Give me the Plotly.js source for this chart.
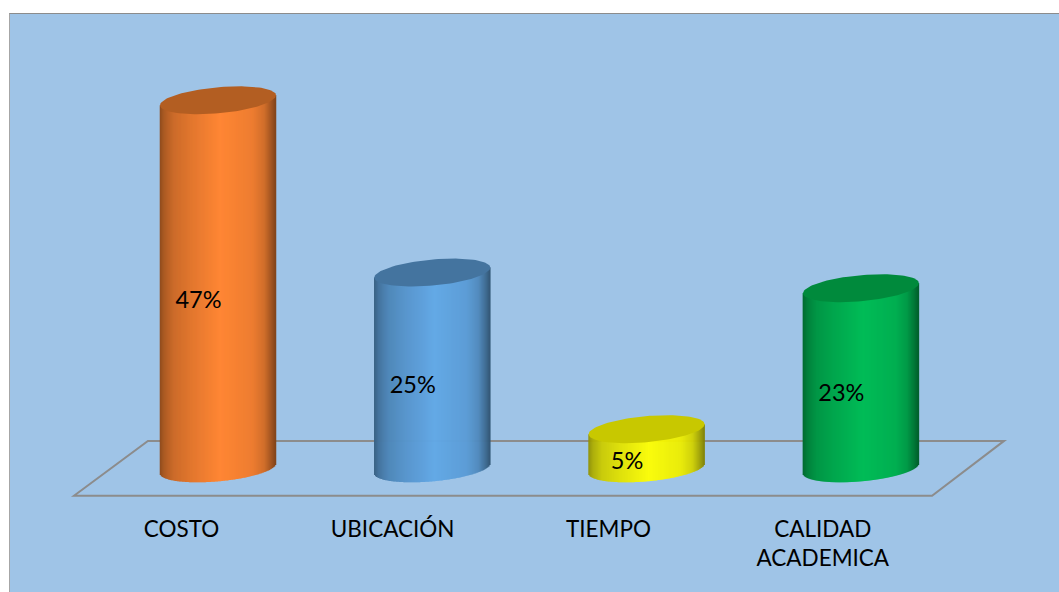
<!DOCTYPE html>
<html>
<head>
<meta charset="utf-8">
<script src="https://cdn.plot.ly/plotly-3.0.1.min.js"></script>
<style>
html,body{margin:0;padding:0;background:#fff;overflow:hidden}
#frame{position:absolute;left:9px;top:13px;width:1050px;height:579px;box-sizing:border-box;border-left:1.5px solid #a6a6a6;border-top:1.5px solid #8c8c8c;background:#9fc4e7}
#chart{position:absolute;left:0;top:0;width:1049px;height:577px}
</style>
</head>
<body>
<div id="frame"><div id="chart"></div></div>
<script>
var categories = ['COSTO', 'UBICACIÓN', 'TIEMPO', 'CALIDAD<br>ACADEMICA'];
var tickPositions = [-0.170, 0.815, 1.822, 2.822];
var values = [47, 25, 5, 23];
var valueLabels = ['47%', '25%', '5%', '23%'];
var labelHeights = [21.24, 10.35, 0.64, 9.36];
var sideColors = [[255, 134, 52], [98, 168, 230], [255, 255, 0], [0, 188, 87]];
var topColors = ['#b35e22', '#44749f', '#c8c800', '#008a3c'];

var BG = '#9fc4e7', FONT = 'Lato, Carlito, sans-serif';
var halfWidth = 0.2707, ellipseHalf = 1.667, ellipseTilt = 0.64;
var stripCount = 116;

function shade(u) {
  var stops = [[0, .56], [.04, .68], [.12, .8], [.28, .89], [.52, 1], [.8, .93], [.9, .82], [.96, .64], [1, .5]];
  for (var i = 1; i < stops.length; i++) {
    if (u <= stops[i][0]) {
      var f = (u - stops[i - 1][0]) / (stops[i][0] - stops[i - 1][0]);
      return stops[i - 1][1] + f * (stops[i][1] - stops[i - 1][1]);
    }
  }
  return 1;
}

var traces = [];
categories.forEach(function (cat, c) {
  var xs = [], heights = [], bases = [], colors = [];
  for (var s = 0; s < stripCount; s++) {
    var u = (s + 0.5) / stripCount, t = 2 * u - 1;
    var sag = ellipseHalf * Math.sqrt(1 - t * t), lean = ellipseTilt * t;
    var k = shade(u);
    xs.push(c + t * halfWidth);
    bases.push(lean - sag);
    heights.push(values[c] + sag);
    colors.push('rgb(' + sideColors[c].map(function (v) { return Math.round(v * k); }).join(',') + ')');
  }
  traces.push({
    type: 'bar', name: cat, x: xs, y: heights, base: bases,
    width: 2 * halfWidth / stripCount * 1.5,
    marker: {color: colors, line: {width: 0}},
    hoverinfo: 'skip', showlegend: false
  });
});
categories.forEach(function (cat, c) {
  var ex = [], ey = [];
  for (var a = 0; a <= 120; a++) {
    var th = a / 120 * 2 * Math.PI, t = Math.cos(th);
    ex.push(c + halfWidth * t);
    ey.push(values[c] + ellipseTilt * t + ellipseHalf * Math.sin(th));
  }
  traces.push({
    type: 'scatter', mode: 'lines', x: ex, y: ey, fill: 'toself',
    fillcolor: topColors[c], line: {width: 0, color: topColors[c]},
    hoverinfo: 'skip', showlegend: false
  });
});
traces.push({
  type: 'scatter', mode: 'text',
  x: categories.map(function (_, c) { return c - 0.091; }),
  y: labelHeights, text: valueLabels, textposition: 'middle center',
  textfont: {family: FONT, size: 23.5, color: '#000'},
  hoverinfo: 'skip', showlegend: false
});

var layout = {
  width: 1049, height: 577,
  margin: {l: 0, r: 0, t: 0, b: 80, pad: 0},
  paper_bgcolor: BG, plot_bgcolor: BG,
  barmode: 'overlay', showlegend: false,
  xaxis: {
    range: [-0.9706, 3.9244], fixedrange: true,
    showgrid: false, zeroline: false, showline: false, ticks: '',
    tickmode: 'array',
    tickvals: tickPositions,
    ticktext: categories,
    tickfont: {family: FONT, size: 22.5, color: '#000'},
    tickangle: 0,
    ticklabelstandoff: 2
  },
  yaxis: {
    range: [-5.45, 58.02], fixedrange: true, visible: false,
    showgrid: false, zeroline: false
  },
  shapes: [{
    type: 'path', layer: 'below', xref: 'x', yref: 'y',
    path: 'M -0.672 -3.5 L -0.327 3.5 L 3.668 3.5 L 3.332 -3.5 Z',
    line: {color: '#8c8c8c', width: 2}, fillcolor: 'rgba(0,0,0,0)'
  }]
};
Plotly.newPlot('chart', traces, layout, {displayModeBar: false, staticPlot: true});
</script>
</body>
</html>
